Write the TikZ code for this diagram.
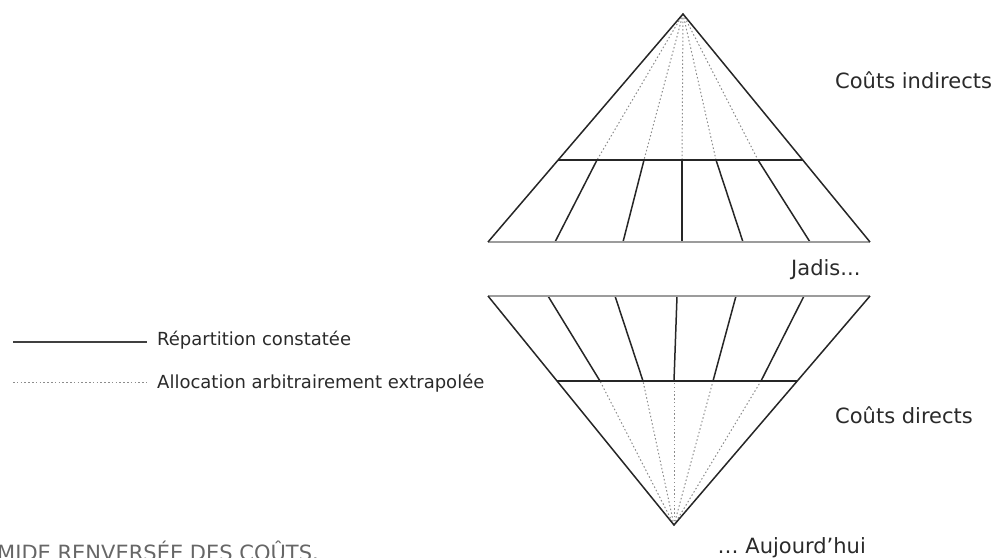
\documentclass[tikz,border=0pt]{standalone}
\usepackage{fontspec}
\setmainfont{DejaVu Sans}
\usetikzlibrary{calc}
\definecolor{txt}{HTML}{2A2A2A}
\definecolor{dotc}{HTML}{8C8C8C}
\definecolor{basec}{HTML}{9C9C9C}
\tikzset{
  edge/.style={line width=1.5pt, draw=black!85},
  baseln/.style={line width=2.8pt, draw=basec},
  dotln/.style={line width=1pt, draw=dotc, dash pattern=on 1.5pt off 2.3pt},
  lbl/.style={inner sep=0pt, text=txt, font=\fontsize{21}{24}\selectfont},
  leg/.style={inner sep=0pt, text=txt, font=\fontsize{18}{21}\selectfont},
  ttl/.style={inner sep=0pt, text=black!60, font=\fontsize{21}{24}\selectfont}
}
\begin{document}
\begin{tikzpicture}[x=1pt,y=-1pt]
\useasboundingbox (0,0) rectangle (995,557);
\clip (0,0) rectangle (995,557);
% ---------- top pyramid ----------
\coordinate (tA) at (683,14);
\coordinate (tL) at (488,242);
\coordinate (tR) at (870,242);
\coordinate (tML) at ($(tA)!0.64!(tL)$);
\coordinate (tMR) at ($(tA)!0.64!(tR)$);
\foreach \i/\xm/\xb in {1/597/555, 2/644/623, 3/682/682, 4/716/743, 5/758/810}{
  \coordinate (tm\i) at (\xm,160);
  \coordinate (tb\i) at (\xb,242);
  \draw[dotln] (tA) -- (tm\i);
  \draw[edge] (tm\i) -- (tb\i);
}
\draw[baseln] (tL) -- (tR);
\draw[edge] (tML) -- (tMR);
\draw[edge, line join=miter] (tL) -- (tA) -- (tR);
% ---------- bottom pyramid ----------
\coordinate (bA) at (674,525);
\coordinate (bL) at (488,296);
\coordinate (bR) at (870,296);
\coordinate (bML) at ($(bL)!0.371!(bA)$);
\coordinate (bMR) at ($(bR)!0.371!(bA)$);
\foreach \i/\xt/\xm in {1/548/600, 2/615/643, 3/677/674, 4/736/713, 5/804/761}{
  \coordinate (bt\i) at (\xt,296);
  \coordinate (bm\i) at (\xm,381);
  \draw[dotln] (bA) -- (bm\i);
  \draw[edge] (bt\i) -- (bm\i);
}
\draw[baseln] (bL) -- (bR);
\draw[edge] (bML) -- (bMR);
\draw[edge, line join=miter] (bL) -- (bA) -- (bR);
% ---------- labels ----------
\node[lbl, anchor=base west] (indir) at (835,88) {Coûts indirects};
\node[lbl, anchor=base west] (jadis) at (791,275) {Jadis...};
\node[lbl, anchor=base west] (dir) at (835,423) {Coûts directs};
\node[lbl, anchor=base east] (auj) at (866,553) {… Aujourd'hui};
% ---------- legend ----------
\coordinate (l1a) at (13,342);
\coordinate (l1b) at (147,342);
\coordinate (l2a) at (13,382);
\coordinate (l2b) at (147,382);
\draw[edge, line width=1.3pt, draw=black!75] (l1a) -- (l1b);
\draw[dotln] (l2a) -- (l2b);
\node[leg, anchor=base west] (leg1) at (157,345) {Répartition constatée};
\node[leg, anchor=base west] (leg2) at (157,388) {Allocation arbitrairement extrapolée};
% ---------- title (cut off at the picture's edge, as in the reference) ----------
\node[ttl, anchor=base west] (title) at (-3,560) {MIDE RENVERSÉE DES COÛTS.};
\end{tikzpicture}
\end{document}
